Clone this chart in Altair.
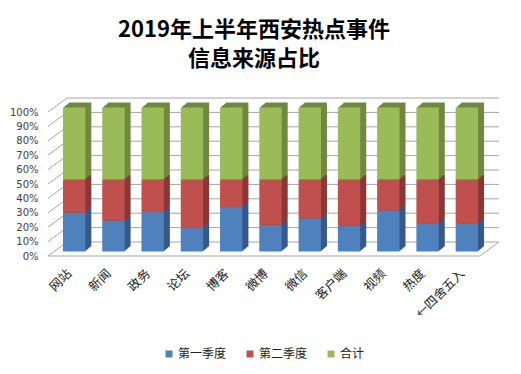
import altair as alt
import pandas as pd

categories = ["网站", "新闻", "政务", "论坛", "博客", "微博", "微信", "客户端", "视频", "热度", "←四舍五入"]
series = ["第一季度", "第二季度", "合计"]
q1 = [27, 21.5, 27.5, 16.5, 31, 18.5, 23, 18, 28.5, 19.5, 19.5]
q2 = [23, 28.5, 22.5, 33.5, 19, 31.5, 27, 32, 21.5, 30.5, 30.5]
total = [50, 50, 50, 50, 50, 50, 50, 50, 50, 50, 50]
front_colors = ["#4F81BD", "#C0504D", "#9BBB59"]
side_colors = ["#37598A", "#8A3836", "#71893F"]
tick_values = [0, 0.1, 0.2, 0.3, 0.4, 0.5, 0.6, 0.7, 0.8, 0.9, 1.0]

rows = []
for i, c in enumerate(categories):
    for j, vals in enumerate([q1, q2, total]):
        rows.append({"cat": c, "series": series[j], "value": vals[i], "order": j,
                     "side": side_colors[j]})
df = pd.DataFrame(rows)
ticks_df = pd.DataFrame({"t": tick_values})

W, H = 432, 144
WALL_DX, WALL_DY = 19, -14
BAR_DX, BAR_DY = 6.5, -4.5
DEPTH_X, DEPTH_Y = 6, -5
GRID = "#A6A6A6"

yscale = alt.Scale(domain=[0, 1], nice=False)
xscale = alt.Scale(paddingInner=0.43, paddingOuter=0.215)

xaxis = alt.Axis(labelAngle=315, labelAlign="right", labelBaseline="middle",
                 labelPadding=15, labelOffset=2, ticks=False, domain=False, grid=False,
                 labelFont="Noto Sans CJK SC", labelFontSize=12.5,
                 labelColor="#222222", title=None)
yaxis = alt.Axis(values=tick_values, format=".0%", ticks=False, domain=False,
                 grid=False, labelPadding=10, labelFont="DejaVu Sans",
                 labelFontSize=10, labelColor="#404040", title=None)

# back wall gridlines
back = alt.Chart(ticks_df).mark_rule(color=GRID, strokeWidth=1, yOffset=WALL_DY).encode(
    x=alt.value(WALL_DX), x2=alt.value(W + WALL_DX),
    y=alt.Y("t:Q", scale=yscale, axis=yaxis),
)
# side-wall diagonals
diag = alt.Chart(ticks_df).mark_rule(color=GRID, strokeWidth=1, y2Offset=WALL_DY).encode(
    x=alt.value(0), x2=alt.value(WALL_DX),
    y=alt.Y("t:Q", scale=yscale, axis=yaxis), y2="t:Q",
)
# floor front edge and right edge
floor_front = alt.Chart(ticks_df.head(1)).mark_rule(color=GRID, strokeWidth=1).encode(
    x=alt.value(0), x2=alt.value(W),
    y=alt.Y("t:Q", scale=yscale, axis=yaxis),
)
floor_right = alt.Chart(ticks_df.head(1)).mark_rule(color=GRID, strokeWidth=1, y2Offset=WALL_DY).encode(
    x=alt.value(W), x2=alt.value(W + WALL_DX),
    y=alt.Y("t:Q", scale=yscale, axis=yaxis), y2="t:Q",
)

layers = [back, diag, floor_front, floor_right]

steps = 6
for k in range(steps, 0, -1):
    dx = BAR_DX + DEPTH_X * k / steps
    dy = BAR_DY + DEPTH_Y * k / steps
    side = alt.Chart(df).mark_bar(xOffset=dx, x2Offset=dx, yOffset=dy, y2Offset=dy).encode(
        x=alt.X("cat:N", sort=categories, scale=xscale, axis=xaxis),
        y=alt.Y("value:Q", stack="normalize", scale=yscale, axis=yaxis),
        order=alt.Order("order:Q"),
        color=alt.Color("side:N", scale=None, legend=None),
    )
    layers.append(side)

front = alt.Chart(df).mark_bar(xOffset=BAR_DX, x2Offset=BAR_DX, yOffset=BAR_DY, y2Offset=BAR_DY).encode(
    x=alt.X("cat:N", sort=categories, scale=xscale, axis=xaxis),
    y=alt.Y("value:Q", stack="normalize", scale=yscale, axis=yaxis),
    order=alt.Order("order:Q"),
    color=alt.Color("series:N", sort=series,
                    scale=alt.Scale(domain=series, range=front_colors),
                    legend=alt.Legend(title=None, orient="none", direction="horizontal",
                                      legendX=115, legendY=236, padding=0,
                                      symbolType="square", symbolSize=49,
                                      symbolStrokeWidth=0, labelFont="Noto Sans CJK SC",
                                      labelFontSize=12, labelColor="#222222",
                                      labelOffset=3, columnPadding=17)),
)
layers.append(front)

chart = alt.layer(*layers).resolve_scale(color="independent").properties(
    width=W, height=H,
    title=alt.Title(["2019年上半年西安热点事件", "信息来源占比"], anchor="middle",
                    font="Noto Sans CJK SC", fontSize=22, fontWeight="bold",
                    color="#000000", lineHeight=29, offset=27, dx=-10),
    autosize=alt.AutoSizeParams(type="none"),
    padding={"left": 40, "top": 104, "right": 33, "bottom": 110},
    background="#FFFFFF",
).configure_view(stroke=None)

chart.save("out.html", embed_options={"renderer": "svg", "actions": False})
